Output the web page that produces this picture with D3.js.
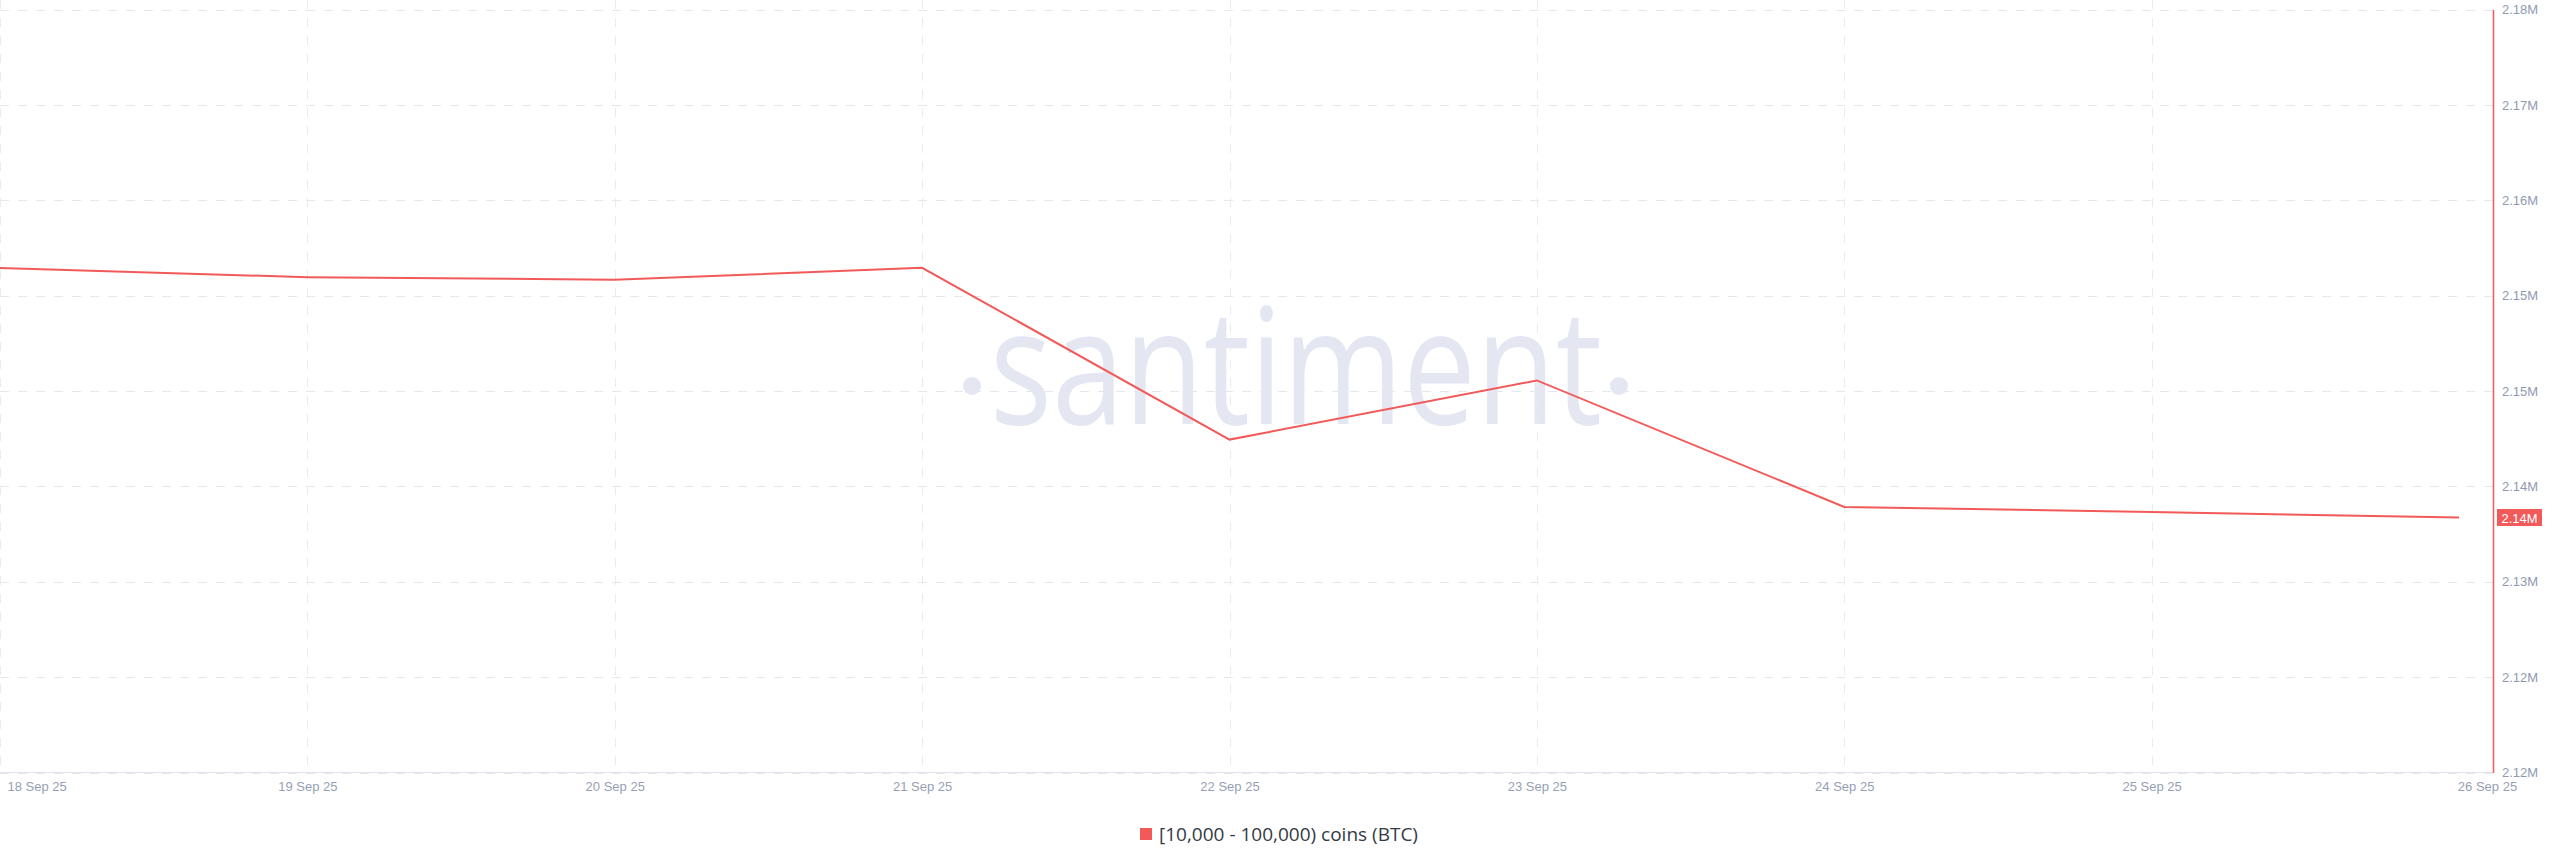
<!DOCTYPE html>
<html>
<head>
<meta charset="utf-8">
<script src="https://cdn.jsdelivr.net/npm/d3@7"></script>
<style>
  body { margin: 0; background: #fff; }
  svg { display: block; }
  .axis text { font-family: "Liberation Sans", Arial, sans-serif; }
</style>
</head>
<body>
<div id="chart"></div>
<script>
// data
var dates = ["2025-09-18", "2025-09-19", "2025-09-20", "2025-09-21", "2025-09-22",
             "2025-09-23", "2025-09-24", "2025-09-25", "2025-09-26"];
var xTickLabels = ["18 Sep 25", "19 Sep 25", "20 Sep 25", "21 Sep 25", "22 Sep 25",
                   "23 Sep 25", "24 Sep 25", "25 Sep 25", "26 Sep 25"];
var holders = [2160170, 2159450, 2159250, 2160190, 2146680,
               2151330, 2141380, 2140990, 2140550];
var yTickValues = [2120500, 2128000, 2135500, 2143000, 2150500, 2158000, 2165500, 2173000, 2180500];
var yTickLabels = ["2.12M", "2.12M", "2.13M", "2.14M", "2.15M", "2.15M", "2.16M", "2.17M", "2.18M"];
var lastLabel = "2.14M";
var seriesName = "[10,000 - 100,000) coins (BTC)";

var W = 2560, H = 867;
var lineColor = "#f25a5a";
var parse = d3.timeParse("%Y-%m-%d");
var pts = dates.map(function (d, i) { return {date: parse(d), v: holders[i]}; });

var x = d3.scaleTime()
    .domain([parse(dates[0]), parse(dates[dates.length - 1])])
    .range([0, 2459]);
var y = d3.scaleLinear()
    .domain([yTickValues[0], yTickValues[yTickValues.length - 1]])
    .range([772.5, 9.5]);
var axisX = 2493;

var svg = d3.select("#chart").append("svg")
    .attr("width", W)
    .attr("height", H);

// watermark
var wm = svg.append("g").attr("fill", "#e4e7f1");
wm.append("text")
    .attr("x", 990).attr("y", 424)
    .attr("textLength", 612)
    .attr("lengthAdjust", "spacingAndGlyphs")
    .style("font-family", "'Open Sans', sans-serif")
    .style("font-size", "162px")
    .text("santiment");
wm.append("circle").attr("cx", 972).attr("cy", 386).attr("r", 9);
wm.append("circle").attr("cx", 1619).attr("cy", 386).attr("r", 9);

// grid
svg.append("g")
    .selectAll("line")
    .data(yTickValues)
    .enter().append("line")
    .attr("x1", 0).attr("x2", axisX)
    .attr("y1", function (d) { return Math.round(y(d)) + 0.5; })
    .attr("y2", function (d) { return Math.round(y(d)) + 0.5; })
    .attr("stroke", "#e4e7ee")
    .attr("stroke-dasharray", "9,9");

// no vertical grid line on the last date
svg.append("g")
    .selectAll("line")
    .data(pts.slice(0, pts.length - 1))
    .enter().append("line")
    .attr("x1", function (d) { return Math.round(x(d.date)) + 0.5; })
    .attr("x2", function (d) { return Math.round(x(d.date)) + 0.5; })
    .attr("y1", 0).attr("y2", 772)
    .attr("stroke", "#e9ebf1")
    .attr("stroke-dasharray", "9,9");

// x axis
var xAxis = d3.axisBottom(x)
    .tickValues(pts.map(function (d) { return d.date; }))
    .tickFormat(function (d, i) { return xTickLabels[i]; })
    .tickSize(0)
    .tickPadding(9);

var gx = svg.append("g")
    .attr("class", "axis")
    .attr("transform", "translate(0,772.5)")
    .call(xAxis);
gx.select(".domain").attr("stroke", "#e1e4eb").attr("d", "M0,0H" + axisX);
gx.selectAll("text")
    .attr("fill", "#96a0b5")
    .style("font-size", "13px")
    .attr("text-anchor", function (d, i) { return i === 0 ? "start" : "middle"; })
    .attr("dx", function (d, i) { return i === 0 ? 7 : (i === xTickLabels.length - 1 ? 28 : 0); });

// y axis on the right
var yAxis = d3.axisRight(y)
    .tickValues(yTickValues)
    .tickFormat(function (d, i) { return yTickLabels[i]; })
    .tickSize(0)
    .tickSizeOuter(0)
    .tickPadding(9);

var gy = svg.append("g")
    .attr("class", "axis")
    .attr("transform", "translate(" + axisX + ",0)")
    .call(yAxis);
gy.select(".domain").attr("stroke", lineColor).attr("stroke-width", 1.5);
gy.selectAll("text")
    .attr("fill", "#8f9ab1")
    .style("font-size", "13px");

// line
var line = d3.line()
    .x(function (d) { return x(d.date); })
    .y(function (d) { return y(d.v); });

svg.append("path")
    .datum(pts)
    .attr("fill", "none")
    .attr("stroke", lineColor)
    .attr("stroke-width", 2)
    .attr("d", line);

// last value badge
var last = pts[pts.length - 1];
var badge = svg.append("g")
    .attr("transform", "translate(" + (axisX + 4) + "," + Math.round(y(last.v)) + ")");
badge.append("rect")
    .attr("x", 0).attr("y", -9)
    .attr("width", 45).attr("height", 17)
    .attr("fill", lineColor);
badge.append("text")
    .attr("x", 22.5).attr("y", 0)
    .attr("dy", "0.35em")
    .attr("text-anchor", "middle")
    .attr("fill", "#fff")
    .style("font-family", "'Liberation Sans', Arial, sans-serif")
    .style("font-size", "13px")
    .text(lastLabel);

// legend
var legend = svg.append("g").attr("transform", "translate(1140,834)");
legend.append("rect")
    .attr("x", 0).attr("y", -6)
    .attr("width", 12).attr("height", 12)
    .attr("fill", lineColor);
legend.append("text")
    .attr("x", 19).attr("y", 0)
    .attr("dy", "0.35em")
    .attr("fill", "#333a46")
    .style("font-family", "'Open Sans', sans-serif")
    .style("font-size", "19px")
    .text(seriesName);
</script>
</body>
</html>
